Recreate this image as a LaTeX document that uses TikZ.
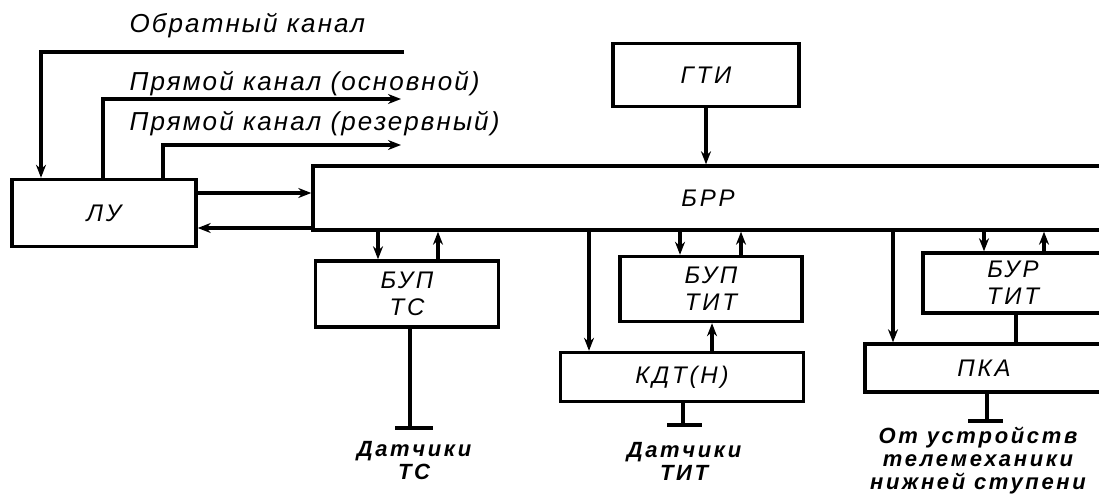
\documentclass[tikz,border=0pt]{standalone}
\usepackage{fontspec}
\setmainfont{Liberation Sans}
\newfontfamily\gostfont[LetterSpace=8]{Liberation Sans}
\newfontfamily\gostwide[LetterSpace=12]{Liberation Sans}
\usetikzlibrary{arrows.meta}

\begin{document}
\begin{tikzpicture}[x=1pt,y=-1pt,line width=3.4pt,
  blk/.style={draw,rectangle,inner sep=0pt,align=center,
    font=\gostwide\itshape\fontsize{24}{27}\selectfont},
  chan/.style={anchor=west,inner sep=0pt,
    font=\gostfont\itshape\fontsize{26}{28}\selectfont},
  src/.style={align=center,inner sep=0pt,
    font=\gostwide\itshape\bfseries\fontsize{22}{23}\selectfont},
  arr/.style={-{Stealth[length=13pt,width=10pt]}}]
  \useasboundingbox (0,0) rectangle (1099,503);
  \clip (0,0) rectangle (1099,503);

  % Blocks
  \node[blk,minimum width=184,minimum height=67] (lu) at (104,213) {ЛУ};
  \node[blk,minimum width=790,minimum height=64] (brr) at (708,198) {БРР};
  \node[blk,minimum width=186,minimum height=63] (gti) at (706,75) {ГТИ};
  \node[blk,minimum width=183,minimum height=66] (bupts) at (407,294) {БУП\\ТС};
  \node[blk,minimum width=182,minimum height=65] (buptit) at (711,289) {БУП\\ТИТ};
  \node[blk,minimum width=243,minimum height=49] (kdt) at (682,377) {КДТ(Н)};
  \node[blk,minimum width=180,minimum height=60] (burtit) at (1013,283) {БУР\\ТИТ};
  \node[blk,minimum width=238,minimum height=48] (pka) at (984,368) {ПКА};

  % Channels
  \node[chan] (obrtxt) at (128,26) {Обратный канал};
  \node[chan] (osntxt) at (128,84) {Прямой канал (основной)};
  \node[chan] (reztxt) at (128,124) {Прямой канал (резервный)};
  \coordinate (obrend) at (404,52);
  \coordinate (osnend) at (401,99);
  \coordinate (rezend) at (401,145);
  \draw[arr] (obrend) -| (lu.north -| 41,0);
  \draw[arr] (lu.north -| 103,0) |- (osnend);
  \draw[arr] (lu.north -| 163,0) |- (rezend);

  % LU <-> BRR
  \draw[arr] (lu.east |- 0,193) -- (brr.west |- 0,193);
  \draw[arr] (brr.west |- 0,228) -- (lu.east |- 0,228);
  \draw[arr] (gti.south) -- (brr.north -| gti.south);

  % TS
  \draw[arr] (brr.south -| 378,0) -- (bupts.north -| 378,0);
  \draw[arr] (bupts.north -| 438,0) -- (brr.south -| 438,0);
  \coordinate (tsgnd) at (410,428);
  \draw (bupts.south -| tsgnd) -- (tsgnd);
  \draw (tsgnd) ++(-15,0) -- ++(38,0);
  \node[src] (tsdat) at (414,461) {Датчики\\ТС};

  % TIT
  \draw[arr] (brr.south -| 589,0) -- (kdt.north -| 589,0);
  \draw[arr] (brr.south -| 680,0) -- (buptit.north -| 680,0);
  \draw[arr] (buptit.north -| 741,0) -- (brr.south -| 741,0);
  \draw[arr] (kdt.north -| 712,0) -- (buptit.south -| 712,0);
  \coordinate (titgnd) at (683,425);
  \draw (kdt.south -| titgnd) -- (titgnd);
  \draw (titgnd) ++(-16,0) -- ++(35,0);
  \node[src] (titdat) at (684,461) {Датчики\\ТИТ};

  % PKA
  \draw[arr] (brr.south -| 893,0) -- (pka.north -| 893,0);
  \draw[arr] (brr.south -| 984,0) -- (burtit.north -| 984,0);
  \draw[arr] (burtit.north -| 1044,0) -- (brr.south -| 1044,0);
  \draw (burtit.south -| 1016,0) -- (pka.north -| 1016,0);
  \coordinate (pkagnd) at (987,421);
  \draw (pka.south -| pkagnd) -- (pkagnd);
  \draw (pkagnd) ++(-19,0) -- ++(35,0);
  \node[src] (pkasrc) at (978,461) {От устройств\\телемеханики\\нижней ступени};
\end{tikzpicture}
\end{document}
